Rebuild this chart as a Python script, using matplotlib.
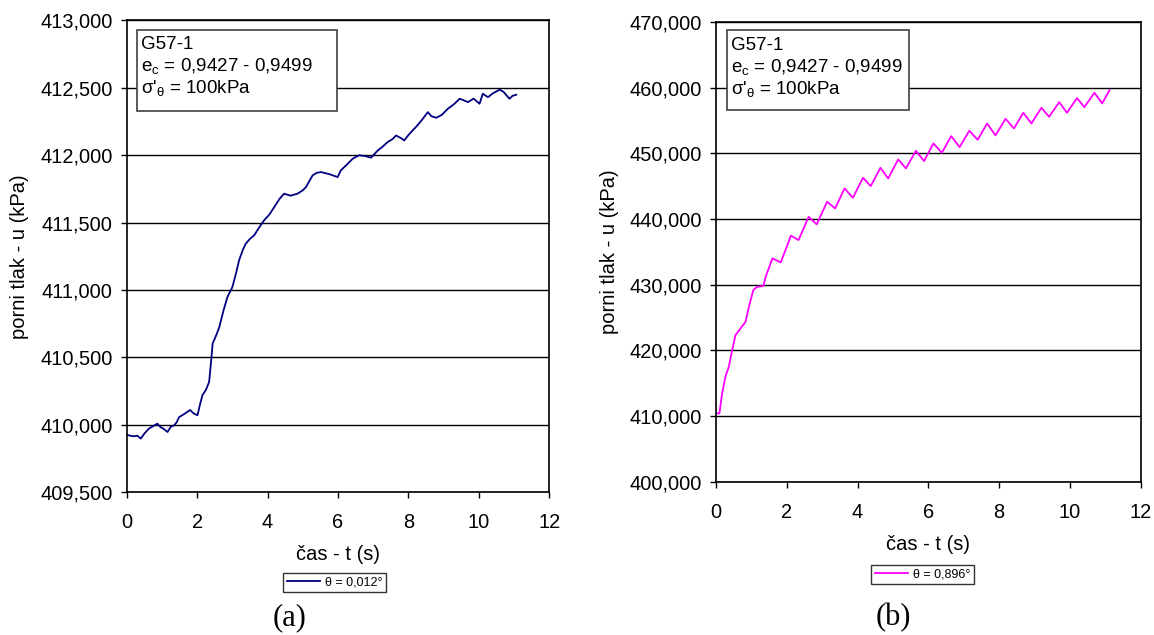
import matplotlib.pyplot as plt
from matplotlib.patches import Rectangle
from matplotlib.ticker import FuncFormatter, MultipleLocator

plt.rcParams['font.family'] = ['Liberation Sans', 'DejaVu Sans']
plt.rcParams['mathtext.fontset'] = 'custom'
plt.rcParams['mathtext.rm'] = 'Liberation Sans'

# (a) theta = 0,012 deg - time (s) and pore pressure (kPa)
t_a = [0.00, 0.04, 0.20, 0.30, 0.40, 0.50, 0.63, 0.75, 0.87, 0.95, 1.05, 1.16,
       1.25, 1.35, 1.42, 1.49, 1.60, 1.72, 1.80, 1.90, 2.01, 2.08, 2.15, 2.25,
       2.34, 2.40, 2.44, 2.55, 2.63, 2.75, 2.86, 3.00, 3.10, 3.19, 3.30, 3.38,
       3.50, 3.62, 3.75, 3.90, 4.05, 4.19, 4.35, 4.47, 4.65, 4.85, 5.00, 5.09,
       5.28, 5.40, 5.52, 5.75, 5.99, 6.08, 6.25, 6.42, 6.60, 6.75, 6.94, 7.13,
       7.25, 7.41, 7.55, 7.65, 7.80, 7.88, 8.00, 8.12, 8.25, 8.41, 8.55, 8.65,
       8.79, 8.95, 9.12, 9.30, 9.45, 9.55, 9.69, 9.85, 10.02, 10.11, 10.26,
       10.40, 10.59, 10.70, 10.87, 10.95, 11.06]
u_a = [409.930, 409.923, 409.915, 409.920, 409.898, 409.935, 409.972, 409.990,
       410.009, 409.985, 409.970, 409.947, 409.985, 409.997, 410.020, 410.058,
       410.075, 410.096, 410.110, 410.085, 410.071, 410.150, 410.220, 410.260,
       410.318, 410.480, 410.603, 410.670, 410.726, 410.850, 410.948, 411.022,
       411.120, 411.220, 411.300, 411.344, 411.380, 411.406, 411.460, 411.517,
       411.560, 411.616, 411.680, 411.715, 411.700, 411.715, 411.740, 411.764,
       411.851, 411.870, 411.875, 411.860, 411.838, 411.888, 411.930, 411.975,
       412.000, 411.995, 411.982, 412.036, 412.060, 412.098, 412.120, 412.147,
       412.125, 412.110, 412.150, 412.184, 412.220, 412.271, 412.320, 412.290,
       412.278, 412.300, 412.345, 412.380, 412.419, 412.410, 412.394, 412.420,
       412.382, 412.456, 412.431, 412.460, 412.486, 412.470, 412.419, 412.440,
       412.449]

# (b) theta = 0,896 deg
t_b = [0.000, 0.095, 0.171, 0.265, 0.360, 0.455, 0.550, 0.692, 0.834, 0.929,
       1.052, 1.166, 1.336, 1.403, 1.592, 1.829, 2.114, 2.332, 2.616, 2.844,
       3.137, 3.365, 3.630, 3.867, 4.152, 4.370, 4.645, 4.863, 5.147, 5.365,
       5.649, 5.877, 6.142, 6.379, 6.645, 6.882, 7.156, 7.393, 7.659, 7.896,
       8.180, 8.417, 8.682, 8.910, 9.194, 9.412, 9.697, 9.915, 10.199, 10.408,
       10.692, 10.910, 11.118]
u_b = [410.406, 410.406, 413.450, 415.987, 417.509, 420.046, 422.330, 423.345,
       424.359, 426.643, 429.180, 429.687, 429.789, 431.210, 434.000, 433.391,
       437.451, 436.791, 440.343, 439.176, 442.627, 441.612, 444.656, 443.236,
       446.279, 445.011, 447.801, 446.178, 449.070, 447.700, 450.389, 448.816,
       451.505, 450.085, 452.622, 450.947, 453.433, 452.063, 454.549, 452.723,
       455.260, 453.789, 456.173, 454.549, 456.934, 455.564, 457.797, 456.173,
       458.406, 457.036, 459.218, 457.594, 459.623]

info_lines = ["G57-1",
              "e$_\\mathregular{c}$ = 0,9427 - 0,9499",
              "σ'$_\\mathregular{θ}$ = 100kPa"]


def comma3(x, _):
    return f"{x:,.3f}".replace(".", ",")


fig = plt.figure(figsize=(11.54, 6.35), dpi=100)
ax1 = fig.add_axes([0.1098, 0.2248, 0.3662, 0.7430])
ax2 = fig.add_axes([0.6205, 0.2414, 0.3680, 0.7240])

panels = [
    (ax1, t_a, u_a, '#000080', "θ = 0,012°", (409.5, 413.0), 0.5, (0.2899, 0.0827),
     "(a)", 0.2513, (0.0244, 0.808, 0.473, 0.172)),
    (ax2, t_b, u_b, '#FF00FF', "θ = 0,896°", (400.0, 470.0), 10.0, (0.7994, 0.0953),
     "(b)", 0.7738, (0.0259, 0.8077, 0.4285, 0.1738)),
]

for ax, t, u, col, lab, ylim, step, legpos, tag, tagx, box in panels:
    line, = ax.plot(t, u, color=col, lw=1.3, solid_joinstyle='round')
    ax.set_xlim(0, 12)
    ax.set_ylim(*ylim)
    ax.xaxis.set_major_locator(MultipleLocator(2))
    ax.yaxis.set_major_locator(MultipleLocator(step))
    ax.yaxis.set_major_formatter(FuncFormatter(comma3))
    ax.grid(True, axis='y', color='black', lw=1)
    ax.set_axisbelow(True)
    for s in ax.spines.values():
        s.set_color('black')
        s.set_linewidth(1.2)
    ax.tick_params(direction='out', length=4, width=1, labelsize=14.4, pad=6)
    ax.tick_params(axis='x', pad=11)
    ax.set_xlabel("čas - t (s)", fontsize=14.5, labelpad=9.5)
    ax.set_ylabel("porni tlak - u (kPa)", fontsize=14.5, labelpad=8)

    # info box
    ax.add_patch(Rectangle(box[:2], box[2], box[3], transform=ax.transAxes,
                           fc='white', ec='#404040', lw=1.2, zorder=5))
    for i, txt in enumerate(info_lines):
        ax.annotate(txt, xy=(0, 1), xycoords='axes fraction',
                    xytext=(14.5, -28.5 - 22.3 * i), textcoords='offset pixels',
                    ha='left', va='baseline', fontsize=13.5, zorder=6)

    fig.legend([line], [lab], loc='center', bbox_to_anchor=legpos, fontsize=9,
               frameon=True, fancybox=False, edgecolor='black', handlelength=2.6,
               borderpad=0.3, handletextpad=0.4, borderaxespad=0)
    fig.text(tagx, 0.027, tag, family='Liberation Serif', fontsize=22, ha='center', va='center')

fig.savefig('out.png', dpi=100)
